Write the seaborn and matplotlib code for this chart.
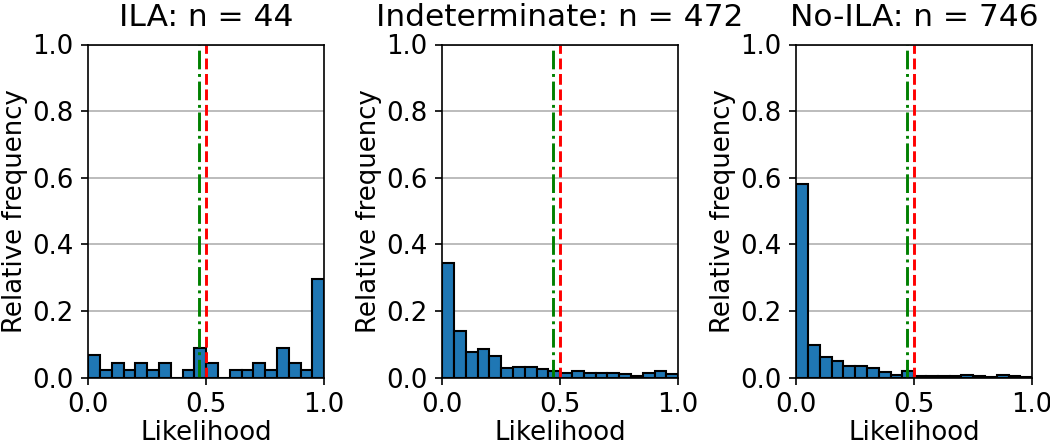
import numpy as np
import pandas as pd
import matplotlib
matplotlib.use("Agg")
import matplotlib.pyplot as plt
import seaborn as sns

# 20 bins over [0, 1]
n_bins = 20
centers = (np.arange(n_bins) + 0.5) / n_bins

# counts per bin
ila_counts = [3, 1, 2, 1, 2, 1, 2, 0, 1, 4, 2, 0, 1, 1, 2, 1, 4, 2, 1, 13]
indet_counts = [163, 66, 36, 41, 31, 14, 16, 15, 12, 9, 7, 10, 7, 7, 7, 6, 3, 7, 10, 5]
noila_counts = [434, 74, 46, 38, 27, 26, 22, 13, 7, 15, 5, 4, 5, 5, 7, 4, 2, 6, 5, 1]

groups = ["ILA", "Indeterminate", "No-ILA"]
counts = [ila_counts, indet_counts, noila_counts]

thr_green = 0.47
thr_red = 0.5

plt.rcParams["font.size"] = 12.5

DPI = 150
fig, axes = plt.subplots(1, 3, figsize=(1050 / DPI, 445 / DPI), dpi=DPI)
fig.subplots_adjust(left=0.084, right=0.983, bottom=0.151, top=0.9, wspace=0.5)

for ax, name, c in zip(axes, groups, counts):
    df = pd.DataFrame({"likelihood": centers, "n": c})
    sns.histplot(data=df, x="likelihood", weights="n", bins=n_bins, binrange=(0, 1),
                 stat="probability", ax=ax, color="#1f77b4", alpha=1,
                 edgecolor="black", linewidth=1)
    ax.axvline(thr_green, color="green", linestyle="-.", linewidth=1.4)
    ax.axvline(thr_red, color="red", linestyle="--", linewidth=1.4)
    ax.set_xlim(0, 1)
    ax.set_ylim(0, 1)
    ax.set_xticks([0, 0.5, 1.0])
    ax.set_yticks(np.arange(0, 1.01, 0.2))
    ax.yaxis.grid(True, color="#b0b0b0", linewidth=0.8)
    ax.set_axisbelow(True)
    ax.set_xlabel("Likelihood", labelpad=1)
    ax.set_ylabel("Relative frequency", labelpad=2)
    ax.set_title(f"{name}: n = {sum(c)}", fontsize=15, pad=9)

plt.savefig("out.png", dpi=DPI)
